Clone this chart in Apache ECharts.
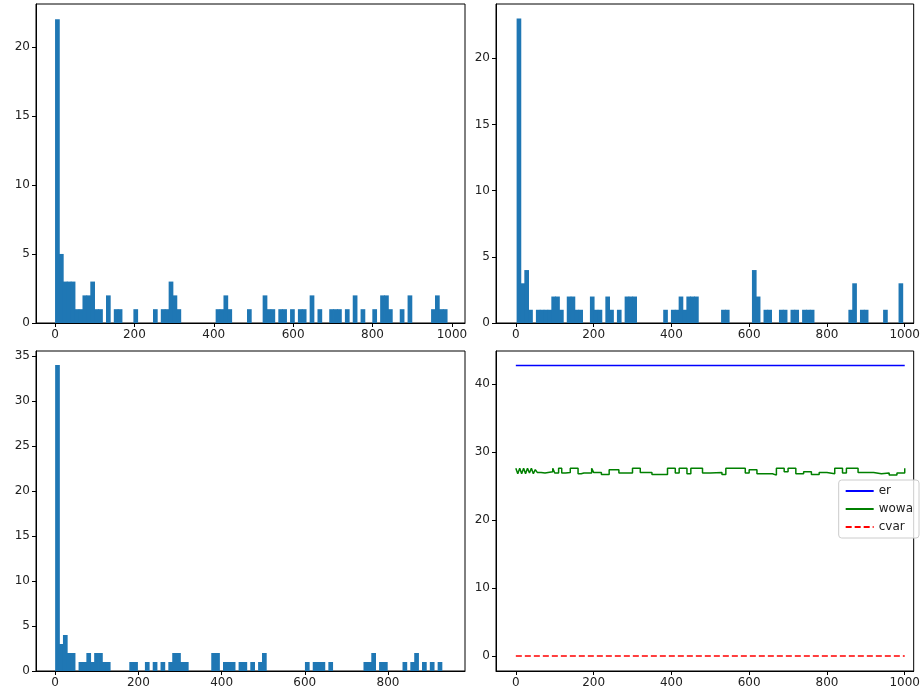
<!DOCTYPE html>
<html>
<head>
<meta charset="utf-8">
<script src="https://cdn.jsdelivr.net/npm/echarts@6/dist/echarts.min.js"></script>
<style>
html, body { margin: 0; padding: 0; background: #fff; }
#chart { width: 923px; height: 696px; }
</style>
</head>
<body>
<div id="chart"></div>
<script>
// histogram counts (100 bins each)
var countsA = [22,5,3,3,3,1,1,2,2,3, 1,1,0,2,0,1,1,0,0,0, 1,0,0,0,0,1,0,1,1,3, 2,1,0,0,0,0,0,0,0,0,
  0,1,1,2,1,0,0,0,0,1, 0,0,0,2,1,1,0,1,1,0, 1,0,1,1,0,2,0,1,0,0, 1,1,1,0,1,0,2,0,1,0,
  0,1,0,2,2,1,0,0,1,0, 2,0,0,0,0,0,1,2,1,1];
var countsB = [23,3,4,1,0,1,1,1,1,2, 2,1,0,2,2,1,1,0,0,2, 1,1,0,2,1,0,1,0,2,2, 2,0,0,0,0,0,0,0,1,0,
  1,1,2,1,2,2,2,0,0,0, 0,0,0,1,1,0,0,0,0,0, 0,4,2,0,1,1,0,0,1,1, 0,1,1,0,1,1,1,0,0,0,
  0,0,0,0,0,0,1,3,0,1, 1,0,0,0,0,1,0,0,0,3];
var countsC = [34,3,4,2,2,0,1,1,2,1, 2,2,1,1,0,0,0,0,0,1, 1,0,0,1,0,1,0,1,0,1, 2,2,1,1,0,0,0,0,0,0,
  2,2,0,1,1,1,0,1,1,0, 1,0,1,2,0,0,0,0,0,0, 0,0,0,0,1,0,1,1,1,0, 1,0,0,0,0,0,0,0,0,1,
  1,2,0,1,1,0,0,0,0,1, 0,1,2,0,1,0,1,0,1,0];
var rangeA = [0, 987];
var rangeB = [2, 994];
var rangeC = [0, 938];

// line panel
var lineX = [0, 1000];
var erValue = 42.7;
var cvarValue = 0;
var wowaX = [0,5,10,15,20,25,30,35,40,45,50,55,65,75,95,100,110,118,128,140,160,168,175,195,200,220,240,265,300,320,350,390,410,420,440,450,470,480,500,530,540,580,590,600,620,640,660,670,690,700,720,740,760,780,800,820,840,850,860,880,900,920,940,960,980,1000];
var wowaY = [27.6,26.8,27.6,26.8,27.6,26.8,27.6,26.9,27.6,26.8,27.4,27.0,26.9,27.1,27.6,26.9,27.6,26.9,27.0,27.6,26.8,26.9,26.9,27.6,27.0,26.7,27.4,26.9,27.6,27.0,26.7,27.6,26.9,27.6,26.8,27.6,27.6,26.9,27.0,26.7,27.6,27.6,26.9,27.4,26.8,26.8,26.6,27.6,27.1,27.6,26.8,27.1,26.7,27.0,26.8,27.6,26.9,27.6,27.6,27.0,27.0,26.8,26.9,26.6,26.9,27.6];

var blue = '#1f77b4';

function bins(counts, range) {
  var w = (range[1] - range[0]) / counts.length;
  return counts.map(function (c, i) {
    return [range[0] + i * w, range[0] + (i + 1) * w, c];
  });
}

function histItem(params, api) {
  if (!api.value(2)) return null;
  var p0 = api.coord([api.value(0), api.value(2)]);
  var p1 = api.coord([api.value(1), 0]);
  return {
    type: 'rect',
    shape: { x: p0[0], y: p0[1], width: p1[0] - p0[0] + 0.8, height: p1[1] - p0[1] },
    style: { fill: blue }
  };
}

var grids = [
  { left: 36, top: 4, width: 429, height: 319 },
  { left: 496, top: 4, width: 420, height: 319 },
  { left: 36, top: 351, width: 429, height: 320 },
  { left: 496, top: 351, width: 420, height: 320 }
];

function plain(v) { return String(v); }

function xAxis(i, min, max, ticks) {
  return {
    type: 'value', gridIndex: i, min: min, max: max,
    splitLine: { show: false },
    axisLine: { onZero: false, lineStyle: { color: '#000' } },
    axisTick: { inside: false, length: 4, lineStyle: { color: '#000' }, customValues: ticks },
    axisLabel: { color: '#222', fontSize: 12, fontFamily: 'DejaVu Sans', margin: 6, customValues: ticks, formatter: plain }
  };
}
function yAxis(i, min, max, ticks) {
  return {
    type: 'value', gridIndex: i, min: min, max: max,
    splitLine: { show: false },
    axisLine: { show: true, onZero: false, lineStyle: { color: '#000' } },
    axisTick: { show: true, length: 4, lineStyle: { color: '#000' }, customValues: ticks },
    axisLabel: { color: '#222', fontSize: 12, fontFamily: 'DejaVu Sans', margin: 6, customValues: ticks, formatter: plain }
  };
}

var chart = echarts.init(document.getElementById('chart'));
chart.setOption({
  animation: false,
  grid: grids.map(function (g) {
    return Object.assign({ show: true, borderColor: '#000', borderWidth: 1, backgroundColor: 'transparent' }, g);
  }),
  xAxis: [
    xAxis(0, -48, 1033, [0, 200, 400, 600, 800, 1000]),
    xAxis(1, -51, 1023, [0, 200, 400, 600, 800, 1000]),
    xAxis(2, -46, 985, [0, 200, 400, 600, 800]),
    xAxis(3, -51, 1023, [0, 200, 400, 600, 800, 1000])
  ],
  yAxis: [
    yAxis(0, 0, 23.1, [0, 5, 10, 15, 20]),
    yAxis(1, 0, 24.1, [0, 5, 10, 15, 20]),
    yAxis(2, 0, 35.55, [0, 5, 10, 15, 20, 25, 30, 35]),
    yAxis(3, -2.2, 44.85, [0, 10, 20, 30, 40])
  ],
  legend: {
    right: 4, top: 480, orient: 'vertical',
    itemWidth: 28, itemHeight: 10, itemGap: 6,
    itemStyle: { opacity: 0 },
    backgroundColor: 'rgba(255,255,255,0.8)', borderColor: '#ccc', borderWidth: 1, borderRadius: 3,
    padding: [5, 6],
    textStyle: { fontSize: 12, fontFamily: 'DejaVu Sans', color: '#222' },
    data: ['er', 'wowa', 'cvar']
  },
  series: [
    { type: 'custom', xAxisIndex: 0, yAxisIndex: 0, renderItem: histItem, encode: { x: [0, 1], y: 2 }, data: bins(countsA, rangeA) },
    { type: 'custom', xAxisIndex: 1, yAxisIndex: 1, renderItem: histItem, encode: { x: [0, 1], y: 2 }, data: bins(countsB, rangeB) },
    { type: 'custom', xAxisIndex: 2, yAxisIndex: 2, renderItem: histItem, encode: { x: [0, 1], y: 2 }, data: bins(countsC, rangeC) },
    { name: 'er', type: 'line', xAxisIndex: 3, yAxisIndex: 3, symbol: 'none', color: '#0000ff',
      lineStyle: { width: 1.5, color: '#0000ff' },
      data: lineX.map(function (x) { return [x, erValue]; }) },
    { name: 'wowa', type: 'line', xAxisIndex: 3, yAxisIndex: 3, symbol: 'none', step: 'end', color: '#008000',
      lineStyle: { width: 1.5, color: '#008000' },
      data: wowaX.map(function (x, i) { return [x, wowaY[i]]; }) },
    { name: 'cvar', type: 'line', xAxisIndex: 3, yAxisIndex: 3, symbol: 'none', color: '#ff0000',
      lineStyle: { width: 1.5, color: '#ff0000', type: [6, 3] },
      data: lineX.map(function (x) { return [x, cvarValue]; }) }
  ]
});
</script>
</body>
</html>
